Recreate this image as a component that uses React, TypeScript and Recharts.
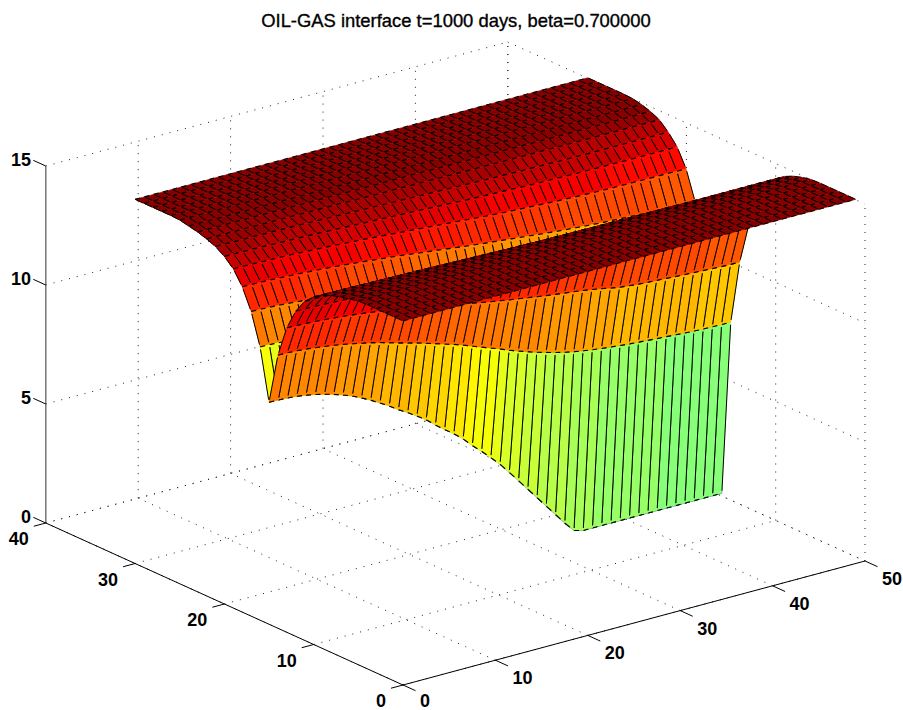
import React from 'react';
import { ScatterChart, Scatter, XAxis, YAxis } from 'recharts';

const TITLE = 'OIL-GAS interface t=1000 days, beta=0.700000';
const X_TICKS = [0, 10, 20, 30, 40, 50];
const Y_TICKS = [0, 10, 20, 30, 40];
const Z_TICKS = [0, 5, 10, 15];
const Z_MAX = 15.3;

// surface heights, one list per y (x = 0..49)
const zPlateau = [15.3,15.3,15.3,15.3,15.3,15.3,15.3,15.3,15.3,15.3,15.3,15.3,15.3,15.3,15.3,15.3,15.3,15.3,15.3,15.3,15.3,15.3,15.3,15.3,15.3,15.3,15.3,15.3,15.3,15.3,15.3,15.3,15.3,15.3,15.3,15.3,15.3,15.3,15.3,15.3,15.3,15.3,15.3,15.3,15.3,15.3,15.3,15.3,15.3,15.3];
const zRow05 = [15.28,15.28,15.28,15.28,15.28,15.28,15.28,15.28,15.28,15.28,15.28,15.28,15.28,15.27,15.27,15.27,15.27,15.27,15.27,15.27,15.27,15.27,15.27,15.27,15.27,15.27,15.27,15.27,15.27,15.27,15.27,15.27,15.27,15.27,15.27,15.28,15.28,15.28,15.28,15.28,15.28,15.28,15.28,15.28,15.28,15.28,15.28,15.28,15.28,15.28];
const zRow06 = [15.2,15.2,15.2,15.2,15.2,15.2,15.2,15.2,15.2,15.2,15.2,15.2,15.2,15.2,15.2,15.2,15.2,15.2,15.2,15.2,15.2,15.2,15.2,15.2,15.2,15.2,15.2,15.2,15.2,15.2,15.2,15.2,15.2,15.2,15.2,15.2,15.2,15.2,15.2,15.2,15.2,15.2,15.2,15.2,15.2,15.2,15.2,15.2,15.2,15.2];
const zRow07 = [15.12,15.12,15.12,15.12,15.12,15.12,15.12,15.12,15.12,15.11,15.11,15.11,15.11,15.11,15.11,15.11,15.1,15.1,15.1,15.1,15.1,15.1,15.1,15.1,15.1,15.09,15.09,15.09,15.09,15.09,15.09,15.09,15.09,15.09,15.09,15.09,15.08,15.08,15.08,15.08,15.08,15.08,15.08,15.08,15.08,15.08,15.08,15.08,15.08,15.08];
const zRow08 = [15.0,15.0,15.0,15.0,15.0,15.0,14.99,14.99,14.99,14.99,14.98,14.98,14.98,14.97,14.97,14.97,14.96,14.96,14.96,14.95,14.95,14.95,14.94,14.94,14.94,14.93,14.93,14.93,14.92,14.92,14.92,14.92,14.91,14.91,14.91,14.91,14.91,14.91,14.9,14.9,14.9,14.9,14.9,14.9,14.9,14.9,14.9,14.9,14.9,14.9];
const zRow09 = [14.85,14.85,14.84,14.84,14.84,14.83,14.83,14.82,14.81,14.81,14.8,14.79,14.78,14.77,14.76,14.75,14.74,14.73,14.72,14.71,14.7,14.69,14.68,14.67,14.66,14.65,14.64,14.63,14.62,14.61,14.6,14.6,14.59,14.58,14.58,14.57,14.57,14.56,14.56,14.56,14.55,14.55,14.55,14.55,14.55,14.55,14.55,14.55,14.55,14.55];
const zRow10 = [14.6,14.6,14.59,14.59,14.58,14.57,14.56,14.55,14.54,14.53,14.52,14.5,14.49,14.47,14.46,14.44,14.42,14.41,14.39,14.37,14.36,14.34,14.32,14.3,14.29,14.27,14.25,14.24,14.22,14.21,14.2,14.19,14.17,14.16,14.15,14.14,14.14,14.13,14.12,14.12,14.11,14.11,14.11,14.1,14.1,14.1,14.1,14.1,14.1,14.1];
const zRow11 = [14.25,14.25,14.24,14.23,14.22,14.21,14.2,14.18,14.16,14.14,14.12,14.1,14.07,14.05,14.02,13.99,13.96,13.93,13.9,13.87,13.84,13.81,13.78,13.75,13.72,13.69,13.66,13.63,13.6,13.58,13.55,13.53,13.51,13.49,13.47,13.45,13.44,13.42,13.41,13.4,13.39,13.38,13.38,13.37,13.37,13.36,13.36,13.36,13.35,13.35];
const zRow12 = [13.67,13.66,13.65,13.64,13.62,13.6,13.58,13.55,13.53,13.5,13.47,13.44,13.4,13.36,13.32,13.28,13.24,13.2,13.15,13.1,13.05,13.01,12.96,12.91,12.86,12.82,12.77,12.73,12.69,12.65,12.61,12.57,12.53,12.49,12.45,12.42,12.39,12.36,12.33,12.3,12.28,12.26,12.24,12.22,12.2,12.19,12.18,12.17,12.16,12.15];
const zRow13 = [12.8,12.79,12.77,12.75,12.72,12.69,12.65,12.61,12.56,12.51,12.46,12.41,12.35,12.28,12.21,12.14,12.07,12.0,11.92,11.84,11.75,11.68,11.6,11.54,11.47,11.41,11.35,11.29,11.23,11.18,11.13,11.08,11.03,10.97,10.9,10.82,10.75,10.71,10.67,10.64,10.62,10.6,10.57,10.55,10.53,10.51,10.49,10.47,10.46,10.45];
const zRow14 = [11.48,11.47,11.45,11.42,11.37,11.32,11.27,11.2,11.12,11.04,10.96,10.86,10.75,10.64,10.53,10.43,10.31,10.19,10.07,9.95,9.82,9.67,9.52,9.38,9.24,9.08,8.94,8.81,8.68,8.57,8.46,8.37,8.29,8.22,8.16,8.11,8.07,8.03,7.99,7.96,7.93,7.9,7.88,7.85,7.82,7.8,7.78,7.77,7.76,7.75];
const zRow15 = [9.33,9.32,9.3,9.27,9.21,9.13,9.04,8.93,8.8,8.65,8.47,8.27,8.05,7.82,7.56,7.33,7.08,6.82,6.5,6.2,5.92,5.6,5.22,4.87,4.5,4.12,3.67,3.22,2.76,2.3,1.84,1.38,0.92,0.5,0.4,0.4,0.4,0.4,0.4,0.4,0.4,0.4,0.4,0.4,0.4,0.4,0.4,0.4,0.4,0.4];

// the picture is symmetric about y = 15, so the back half uses the same lists
const SURFACE_Z = [
  zPlateau, zPlateau, zPlateau, zPlateau, zPlateau, zRow05, zRow06, zRow07, zRow08, zRow09, zRow10,
  zRow11, zRow12, zRow13, zRow14, zRow15, zRow14, zRow13, zRow12, zRow11, zRow10, zRow09,
  zRow08, zRow07, zRow06, zRow05, zPlateau, zPlateau, zPlateau, zPlateau, zPlateau,
];

// fixed 3d view: data coordinates to chart coordinates
const project = (x: number, y: number, z: number) => ({
  sx: 403 + 9.24 * x - 8.93 * y,
  sy: 685 - 2.48 * x - 4.05 * y - 23.8 * z,
});

const jet = (t: number) => {
  const level = Math.min(63, Math.floor(t * 64));
  const v = (level + 0.5) / 64;
  const ch = (c: number) => Math.round(255 * Math.max(0, Math.min(1, 1.5 - Math.abs(4 * v - c))));
  return `rgb(${ch(3)},${ch(2)},${ch(1)})`;
};

// far patches first so the near ones cover them
const patches: any[] = [];
for (let j = SURFACE_Z.length - 2; j >= 0; j--) {
  for (let i = SURFACE_Z[j].length - 2; i >= 0; i--) {
    const a = project(i, j, SURFACE_Z[j][i]);
    const b = project(i + 1, j, SURFACE_Z[j][i + 1]);
    const c = project(i + 1, j + 1, SURFACE_Z[j + 1][i + 1]);
    const d = project(i, j + 1, SURFACE_Z[j + 1][i]);
    patches.push({ ...a, corners: [a, b, c, d], fill: jet(SURFACE_Z[j][i] / Z_MAX) });
  }
}

const mix = (p: any, q: any, t: number) => ({ x: p.x + (q.x - p.x) * t, y: p.y + (q.y - p.y) * t });

// a y-edge with a short break at both ends, the way the source mesh looks
const brokenEdge = (p: any, q: any) => {
  const len = Math.hypot(q.x - p.x, q.y - p.y);
  const t = Math.min(0.12, 2.5 / len);
  return { from: mix(p, q, t), to: mix(p, q, 1 - t) };
};

const PatchShape = (props: any) => {
  const { cx, cy, payload } = props;
  const { sx, sy, corners, fill } = payload;
  const at = (p: any) => ({ x: cx + p.sx - sx, y: cy + p.sy - sy });
  const [a, b, c, d] = corners.map(at);
  const pts = [a, b, c, d].map((p) => `${p.x},${p.y}`).join(' ');
  const left = brokenEdge(a, d);
  const right = brokenEdge(b, c);
  const hx = mix(a, b, 0.55);
  const lx = mix(d, c, 0.55);
  return (
    <g>
      <polygon points={pts} fill={fill} stroke={fill} strokeWidth={0.6} />
      <line x1={left.from.x} y1={left.from.y} x2={left.to.x} y2={left.to.y} stroke="#000" strokeWidth={1} />
      <line x1={right.from.x} y1={right.from.y} x2={right.to.x} y2={right.to.y} stroke="#000" strokeWidth={1} />
      <line x1={a.x} y1={a.y} x2={hx.x} y2={hx.y} stroke="#000" strokeWidth={1.1} />
      <line x1={d.x} y1={d.y} x2={lx.x} y2={lx.y} stroke="#000" strokeWidth={1.1} />
    </g>
  );
};

const NoDot = () => <g />;

const LabelShape = (props: any) => {
  const { cx, cy, payload } = props;
  return (
    <text
      x={cx}
      y={cy}
      textAnchor={payload.anchor}
      dominantBaseline="central"
      fontFamily="Liberation Sans"
      fontSize={payload.size}
      fontWeight={payload.weight}
      fill="#000"
      stroke={payload.weight === 400 ? '#000' : 'none'}
      strokeWidth={0.35}
    >
      {payload.label}
    </text>
  );
};

const seg = (a: any, b: any) => [a, b];
const xMax = X_TICKS[X_TICKS.length - 1];
const yMax = Y_TICKS[Y_TICKS.length - 1];
const zMax = Z_TICKS[Z_TICKS.length - 1];

const gridLines = [
  ...X_TICKS.map((x) => seg(project(x, 0, 0), project(x, yMax, 0))),
  ...Y_TICKS.map((y) => seg(project(0, y, 0), project(xMax, y, 0))),
  ...X_TICKS.slice(1).map((x) => seg(project(x, yMax, 0), project(x, yMax, zMax))),
  ...Y_TICKS.map((y) => seg(project(xMax, y, 0), project(xMax, y, zMax))),
  ...Z_TICKS.map((z) => seg(project(0, yMax, z), project(xMax, yMax, z))),
  ...Z_TICKS.map((z) => seg(project(xMax, yMax, z), project(xMax, 0, z))),
];

const axisLines = [
  seg(project(0, 0, 0), project(xMax, 0, 0)),
  seg(project(0, 0, 0), project(0, yMax, 0)),
  ...X_TICKS.map((x) => seg(project(x, 0, 0), project(x, -1.4, 0))),
  ...Y_TICKS.map((y) => seg(project(0, y, 0), project(-1.3, y, 0))),
  ...Z_TICKS.map((z) => seg(project(0, yMax, z), project(0, yMax + 1.4, z))),
];

const textLabels = [
  { sx: 456, sy: 20, label: TITLE, anchor: 'middle', size: 18.4, weight: 400 },
  ...X_TICKS.map((x) => {
    const p = project(x, 0, 0);
    return { sx: p.sx + 17, sy: Math.min(p.sy + 18, 701), label: String(x), anchor: 'start', size: 18, weight: 700 };
  }),
  ...Y_TICKS.map((y) => {
    const p = project(0, y, 0);
    return { sx: p.sx - 17, sy: p.sy + 16, label: String(y), anchor: 'end', size: 18, weight: 700 };
  }),
  ...Z_TICKS.map((z) => {
    const p = project(0, yMax, z);
    return { sx: 31, sy: p.sy - 6, label: String(z), anchor: 'end', size: 18, weight: 700 };
  }),
];

export default function App() {
  return (
    <div style={{ position: 'absolute', left: 0, top: 0 }}>
      <ScatterChart width={903} height={710} margin={{ top: 0, right: 0, bottom: 0, left: 0 }}>
        <XAxis type="number" dataKey="sx" domain={[0, 903]} hide />
        <YAxis type="number" dataKey="sy" domain={[0, 710]} reversed hide />
        {gridLines.map((line, i) => (
          <Scatter
            key={`grid-${i}`}
            data={line}
            line={{ stroke: '#222', strokeWidth: 1, strokeDasharray: '1 7' }}
            shape={NoDot}
            isAnimationActive={false}
          />
        ))}
        <Scatter
          data={[project(0, yMax, 0), project(0, yMax, zMax)]}
          line={{ stroke: '#777', strokeWidth: 1.5 }}
          shape={NoDot}
          isAnimationActive={false}
        />
        {axisLines.map((line, i) => (
          <Scatter
            key={`axis-${i}`}
            data={line}
            line={{ stroke: '#000', strokeWidth: 1 }}
            shape={NoDot}
            isAnimationActive={false}
          />
        ))}
        <Scatter data={patches} shape={PatchShape} isAnimationActive={false} />
        <Scatter data={textLabels} shape={LabelShape} isAnimationActive={false} />
      </ScatterChart>
    </div>
  );
}
